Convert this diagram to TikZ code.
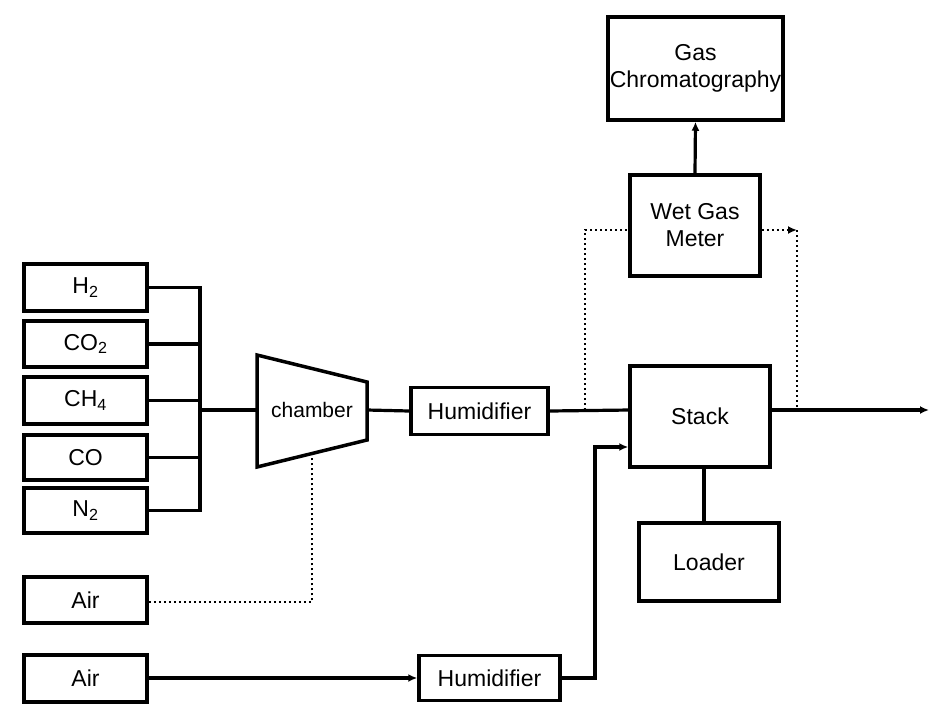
\documentclass[tikz,border=0pt]{standalone}
\usepackage{fontspec}
\setmainfont{Liberation Sans}
\usetikzlibrary{arrows.meta}
\begin{document}
\begin{tikzpicture}[x=1pt,y=-1pt,
  box/.style={draw,line width=3.5pt,minimum width=#1,inner sep=0pt,align=center,
     font=\fontsize{23}{27}\selectfont},
  box/.default=123pt,
  conn/.style={line width=3.2pt},
  dot/.style={line width=2.4pt,dash pattern=on 2pt off 3pt},
  tip/.style={-{Latex[length=9pt,width=8pt]}}]
\path[use as bounding box,fill=white] (0,0) rectangle (932,705);

% gas boxes
\node[box,minimum height=47pt] (h2)  at (85.5,287.5) {H\textsubscript{2}};
\node[box,minimum height=46pt] (co2) at (85.5,344) {CO\textsubscript{2}};
\node[box,minimum height=47pt] (ch4) at (85.5,400.5) {CH\textsubscript{4}};
\node[box,minimum height=45pt] (co)  at (85.5,457.5) {CO};
\node[box,minimum height=45pt] (n2)  at (85.5,510.5) {N\textsubscript{2}};
\node[box,minimum height=46pt] (air1) at (85.5,600) {Air};
\node[box,minimum height=47pt] (air2) at (85.5,678.5) {Air};

% bus
\coordinate (bt) at (200,287.5);
\coordinate (bb) at (200,510.5);
\coordinate (bj) at (200,410);
\draw[conn] (h2.east) -- (bt) -- (bb) -- (n2.east);
\draw[conn] (co2.east) -- (co2.east -| bt);
\draw[conn] (ch4.east) -- (ch4.east -| bt);
\draw[conn] (co.east) -- (co.east -| bt);

% chamber
\coordinate (c1) at (257,355);
\coordinate (c2) at (367,382);
\coordinate (c3) at (367,440);
\coordinate (c4) at (257,467);
\draw[line width=3.5pt,line join=miter] (c1) -- (c2) -- (c3) -- (c4) -- cycle;
\node[font=\fontsize{21}{25}\selectfont] (ch) at (312,410) {chamber};
\coordinate (chW) at (257,410);
\coordinate (chE) at (367,410);
\coordinate (chB) at (312,453.5);
\draw[conn] (bj) -- (chW);

% humidifier 1
\node[box=137pt,minimum height=47pt] (hum1) at (479.5,411) {Humidifier};
\draw[conn] (chE) -- (hum1.west);

% stack
\node[box=140pt,minimum height=101pt] (stack) at (700,416.5) {Stack};
\coordinate (sin) at (630,410);
\draw[conn] (hum1.east) -- (sin);

% wet gas meter and GC
\node[box=130pt,minimum height=101pt] (wgm) at (695,225.5) {Wet Gas\\Meter};
\node[box=175pt,minimum height=103pt] (gc) at (695.5,68.5) {Gas\\Chromatography};
\draw[conn,tip] (wgm.north) -- (gc.south);

% dotted bypass
\coordinate (dl) at (585,410);
\coordinate (dlt) at (585,230);
\coordinate (dr) at (797,230);
\coordinate (drb) at (797,410);
\draw[dot] (dl) -- (dlt) -- (dlt -| wgm.west);
\draw[dot,-{Latex[length=9pt,width=8pt]}] (dr -| wgm.east) -- (dr);
\draw[dot] (dr) -- (drb);

% output
\coordinate (out) at (929,410);
\draw[conn,tip] (stack.east |- out) -- (out);

% loader
\node[box=140pt,minimum height=78pt] (loader) at (709,562) {Loader};
\draw[conn] (704,467) -- (704,523);

% air 1 dotted to chamber
\coordinate (a1c) at (312,602);
\draw[dot] (air1.east |- a1c) -- (a1c) -- (chB);

% air 2 to humidifier 2 to stack
\node[box=141pt,minimum height=45pt] (hum2) at (489.5,678) {Humidifier};
\draw[conn,tip] (air2.east |- hum2.west) -- (hum2.west);
\coordinate (v1) at (595,678);
\coordinate (v2) at (595,447);
\draw[conn,tip,line join=miter] (hum2.east) -- (v1) -- (v2) -- (v2 -| stack.west);
\end{tikzpicture}
\end{document}
